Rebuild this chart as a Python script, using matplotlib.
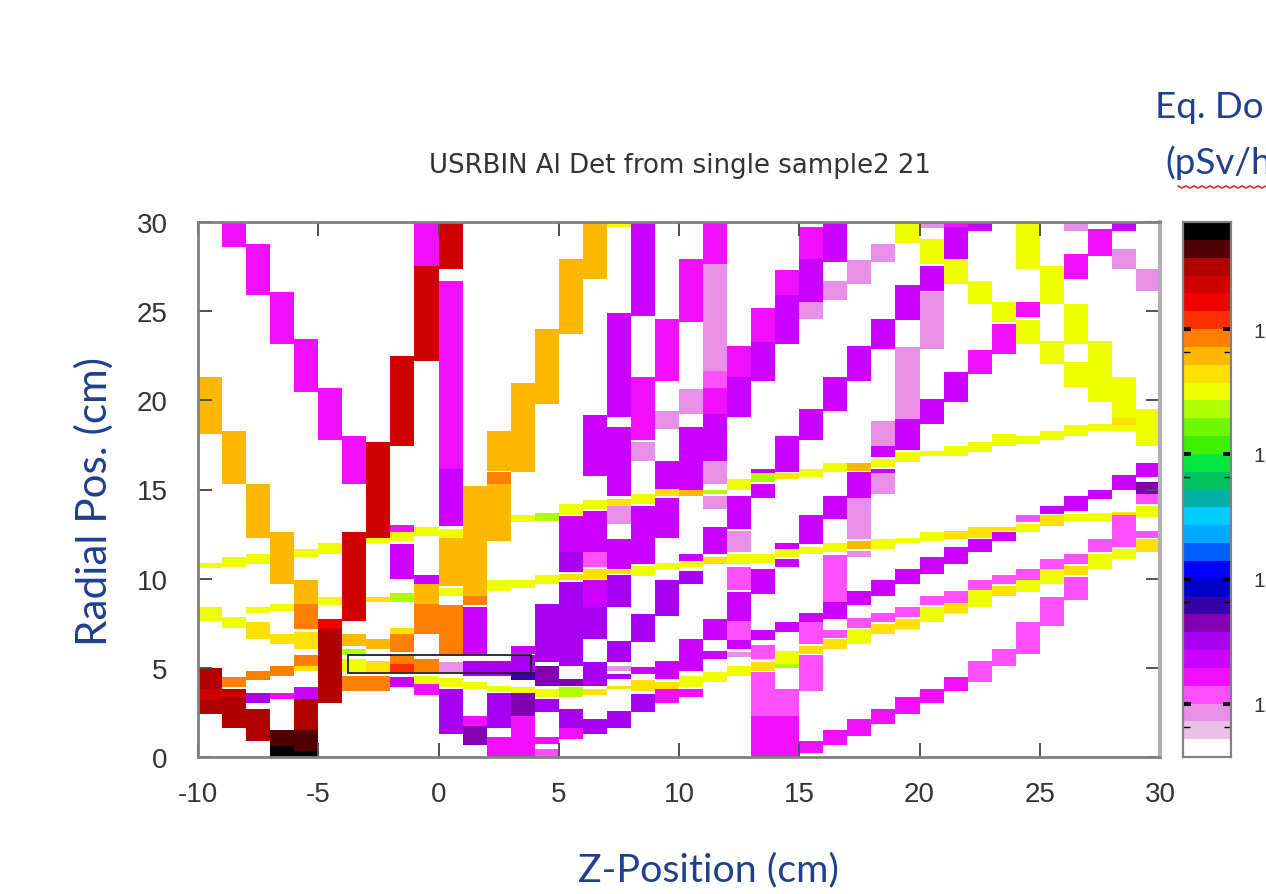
import numpy as np
import matplotlib
matplotlib.use("Agg")
import matplotlib.pyplot as plt
from matplotlib.colors import ListedColormap
from matplotlib.lines import Line2D
from matplotlib.patches import Rectangle

plt.rcParams["axes.unicode_minus"] = False

# colour bands of the bar, lowest first
band_colors = ["#ffffff", "#e8c0e8", "#e890e8", "#ff50ff", "#f010ff", "#cc00ff",
               "#a800f0", "#8000b0", "#3800a8", "#0000c8", "#0000ff", "#0060ff",
               "#00a8ff", "#00ccff", "#00b0a8", "#00c060", "#00e840", "#40f000",
               "#70f800", "#b0ff00", "#f0ff00", "#ffe000", "#ffb800", "#ff8000",
               "#ff3000", "#f00000", "#d00000", "#b00000", "#500000", "#000000"]

z_ticks = [-10, -5, 0, 5, 10, 15, 20, 25, 30]
r_ticks = [0, 5, 10, 15, 20, 25, 30]
bar_major = [3, 10, 17, 24]
bar_minor = [1.7, 8.7, 15.7, 22.7]
bar_labels = ["1", "1", "1", "1"]

# one list per 1 cm z column: (r low, r high, band)
c00 = [(18.1, 21.3, 22), (10.6, 10.9, 20), (7.6, 8.4, 20), (3.8, 5.0, 27), (3.2, 3.8, 26), (2.4, 3.2, 27)]
c01 = [(28.6, 30, 4), (15.3, 18.3, 22), (10.65, 11.2, 20), (7.25, 7.85, 20), (3.9, 4.5, 23), (1.6, 3.8, 27), (3.3, 3.6, 26)]
c02 = [(25.9, 28.75, 4), (12.3, 15.3, 22), (10.8, 11.4, 20), (8.1, 8.4, 20), (6.6, 7.55, 21), (4.3, 4.85, 23), (3.05, 3.6, 6), (0.9, 2.7, 27)]
c03 = [(23.15, 26.05, 4), (9.7, 12.6, 22), (8.2, 8.6, 20), (6.35, 6.9, 21), (4.55, 5.1, 23), (3.25, 3.6, 4), (0.6, 1.5, 28), (0, 0.6, 29)]
c04 = [(20.45, 23.45, 4), (11.2, 11.65, 20), (8.6, 9.9, 22), (7.2, 8.6, 23), (6.05, 7, 21), (5.1, 5.7, 23), (4.8, 5.1, 21), (3.25, 3.9, 5), (1.5, 3.25, 27), (0.35, 1.5, 28), (0, 0.35, 29)]
c05 = [(17.75, 20.7, 4), (11.4, 12, 20), (8.5, 9, 20), (7.2, 7.75, 25), (3.05, 7.2, 27)]
c06 = [(15.3, 18, 4), (7.65, 12.6, 26), (6.25, 6.9, 22), (5.7, 6.05, 19), (4.75, 5.5, 20), (3.7, 4.55, 23)]
c07 = [(12.3, 17.65, 26), (12, 12.3, 20), (8.7, 9, 21), (6.05, 6.6, 22), (4.75, 5.4, 21), (3.7, 4.55, 23)]
c08 = [(17.45, 22.5, 26), (12.6, 13, 4), (12.1, 12.6, 20), (10, 11.95, 5), (8.7, 9.2, 19), (6.9, 7.25, 21), (5.9, 6.9, 23), (5.2, 5.7, 23), (4.75, 5.2, 24), (3.9, 4.5, 5)]
c09 = [(27.55, 30, 4), (22.2, 27.55, 26), (12.4, 12.9, 20), (9.7, 10.2, 5), (9.05, 9.7, 22), (8.6, 9.05, 22), (6.9, 8.6, 23), (4.75, 5.5, 23), (4.1, 4.55, 20), (3.45, 4.1, 4)]
c10 = [(27.35, 30, 26), (16.15, 26.7, 4), (12.97, 16.15, 5), (12.3, 12.8, 20), (9.6, 12.3, 22), (9.05, 9.5, 20), (5.7, 8.5, 23), (4.75, 5.3, 2), (3.9, 4.45, 20), (1.3, 3.8, 6)]
c11 = [(9.05, 15.2, 22), (8.5, 9.05, 23), (5.7, 8.4, 5), (4.55, 5.4, 6), (3.8, 4.2, 20), (1.75, 2.3, 4), (0.65, 1.75, 7)]
c12 = [(16.05, 18.3, 22), (15.3, 16, 23), (12.1, 15.3, 22), (9.3, 9.9, 20), (4.55, 5.4, 6), (3.65, 4, 20), (1.65, 3.6, 6), (0, 1.1, 4)]
c13 = [(16, 21, 22), (13.15, 13.55, 20), (9.5, 9.9, 20), (5.8, 6.25, 5), (4.75, 5.7, 6), (4.3, 4.75, 8), (3.6, 3.9, 20), (2.3, 3.6, 7), (0, 2.3, 4)]
c14 = [(19.8, 24, 22), (13.25, 13.7, 19), (9.7, 10.2, 20), (7.85, 8.6, 6), (5.3, 7.85, 6), (4, 5.1, 7), (3.35, 3.8, 20), (2.5, 3.25, 6), (0.75, 1.1, 4), (0, 0.45, 3)]
c15 = [(23.7, 27.9, 22), (13.55, 14.2, 20), (11.5, 13.5, 5), (10.35, 11.5, 6), (9.9, 10.25, 21), (5.1, 9.8, 6), (4, 4.4, 7), (3.35, 3.9, 19), (1.6, 2.7, 6), (1, 1.6, 4)]
c16 = [(26.8, 30, 22), (15.75, 19.2, 5), (13.9, 14.4, 20), (11.5, 13.8, 5), (10.65, 11.5, 3), (10, 10.55, 21), (8.4, 9.9, 5), (6.6, 8.4, 6), (4, 5.3, 6), (3.45, 3.8, 21), (1.3, 2.15, 6)]
c17 = [(29.7, 30, 20), (19.05, 24.9, 5), (17.5, 18.5, 5), (14.65, 17.5, 5), (14.1, 14.45, 21), (13.05, 14.1, 2), (10.55, 12.2, 5), (10.25, 10.5, 21), (8.4, 10.2, 6), (5.3, 6.5, 6), (4.85, 5.1, 2), (4.4, 4.65, 6), (3.8, 4, 21), (1.6, 2.6, 6)]
c18 = [(24.75, 30, 5), (17.75, 21.3, 4), (16.6, 17.65, 2), (14.2, 14.75, 20), (10.85, 14.1, 5), (10.15, 10.7, 20), (6.45, 8, 6), (4.65, 5.05, 5), (3.7, 4.3, 21), (2.5, 3.55, 6)]
c19 = [(21.1, 24.55, 4), (18.4, 19.4, 2), (15.05, 16.6, 5), (14.65, 15.03, 21), (12.3, 14.5, 5), (10.55, 10.9, 20), (7.9, 9.9, 6), (4.4, 5.4, 5), (3.8, 4.2, 21), (3.05, 3.8, 4)]
c20 = [(24.4, 27.9, 4), (19.25, 20.65, 2), (15, 18.5, 5), (14.65, 15, 22), (11, 11.4, 5), (10.65, 11, 20), (9.7, 10.45, 6), (4.85, 6.6, 5), (3.9, 4.55, 20), (3.35, 3.8, 4)]
c21 = [(27.65, 30, 4), (21.65, 27.65, 2), (20.7, 21.65, 3), (19.25, 20.7, 4), (16.6, 19.25, 5), (15.3, 16.6, 2), (14.75, 15, 19), (13.9, 14.65, 2), (11.4, 12.9, 5), (10.8, 11.2, 21), (6.55, 7.75, 5), (5.5, 5.95, 5), (4.2, 4.75, 20)]
c22 = [(21.3, 23.05, 4), (19.05, 21.3, 5), (14.95, 15.6, 20), (12.8, 14.65, 5), (11.5, 12.7, 2), (10.8, 11.4, 20), (9.35, 10.65, 3), (7.65, 9.25, 5), (6.55, 7.65, 3), (6.05, 6.55, 5), (5.6, 5.9, 2), (4.55, 5.1, 20)]
c23 = [(23.25, 25.2, 4), (21.1, 23.25, 5), (15.9, 16.15, 5), (15.4, 15.9, 19), (14.55, 15.3, 5), (10.9, 11.4, 20), (9.15, 10.55, 5), (6.55, 7.1, 5), (5.5, 6.3, 3), (4.85, 5.3, 21), (2.3, 4.75, 3), (0, 2.3, 4)]
c24 = [(25.9, 27.3, 4), (23.15, 25.9, 5), (16, 18, 5), (15.6, 15.9, 21), (11.65, 12, 5), (11.2, 11.65, 20), (10.65, 11.1, 5), (7, 7.55, 5), (5.2, 5.95, 20), (5, 5.2, 19), (2.3, 3.8, 3), (0, 2.3, 4)]
c25 = [(27.9, 29.7, 4), (25.5, 27.9, 5), (24.55, 25.5, 2), (17.75, 19.5, 5), (15.7, 16.15, 20), (11.95, 13.55, 5), (11.4, 11.75, 20), (7.55, 8.1, 5), (6.35, 7.55, 3), (5.8, 6.25, 21), (3.7, 5.7, 3), (0.25, 0.9, 4)]
c26 = [(27.75, 30, 5), (25.6, 26.7, 2), (19.4, 21.3, 5), (16, 16.5, 20), (13.35, 14.65, 5), (11.5, 12, 20), (8.7, 11.3, 3), (7.75, 8.7, 5), (6.7, 7.1, 3), (6.05, 6.6, 21), (0.65, 1.5, 4)]
c27 = [(26.5, 27.85, 2), (21.1, 23.05, 5), (16.05, 16.5, 22), (14.55, 16, 5), (12.2, 14.5, 2), (11.65, 12.1, 22), (11.2, 11.55, 2), (8.5, 9.3, 5), (7.25, 7.8, 3), (6.35, 7.2, 20), (1.2, 2.15, 4)]
c28 = [(27.75, 28.75, 2), (22.9, 24.55, 5), (17.45, 18.85, 2), (16.8, 17.45, 5), (16.25, 16.7, 20), (15.95, 16.15, 5), (14.75, 15.95, 2), (11.65, 12.2, 20), (9.05, 9.9, 5), (7.55, 8.1, 3), (6.9, 7.45, 21), (1.85, 2.7, 4)]
c29 = [(28.85, 30, 20), (24.5, 26.45, 5), (18.95, 23, 2), (17.2, 18.95, 5), (16.55, 17.1, 20), (12, 12.3, 20), (9.7, 10.55, 5), (7.85, 8.4, 3), (7.2, 7.75, 21), (2.4, 3.35, 4)]
c30 = [(29.65, 30, 2), (27.65, 29.05, 20), (26.15, 27.55, 5), (22.9, 26.05, 2), (18.7, 20.1, 5), (16.9, 17.15, 20), (12.1, 12.6, 20), (10.25, 11.2, 5), (8.5, 9.05, 3), (7.55, 8.4, 20), (3.05, 3.8, 4)]
c31 = [(29.7, 30, 4), (27.9, 29.7, 5), (26.5, 27.9, 20), (19.9, 21.6, 5), (16.9, 17.45, 20), (12.2, 12.7, 21), (10.8, 11.75, 5), (8.65, 9.3, 3), (8.1, 8.65, 21), (3.7, 4.5, 4)]
c32 = [(29.5, 30, 5), (25.4, 26.7, 20), (21.5, 22.8, 4), (17.1, 17.65, 20), (12.3, 12.9, 21), (11.5, 12.2, 5), (9.35, 9.9, 3), (8.4, 9.35, 20), (4.2, 5.4, 3)]
c33 = [(24.4, 25.5, 20), (22.6, 24.3, 4), (17.45, 18.1, 20), (12.7, 12.9, 21), (12.1, 12.6, 5), (9.7, 10.2, 3), (9.05, 9.6, 21), (5.1, 6.05, 3)]
c34 = [(27.35, 30, 20), (24.65, 25.5, 4), (23.15, 24.5, 20), (17.55, 18, 20), (13.15, 13.55, 3), (12.6, 13.05, 20), (9.9, 10.55, 3), (9.25, 9.9, 20), (5.8, 7.55, 3)]
c35 = [(25.4, 27.55, 20), (22.05, 23.35, 20), (17.75, 18.3, 20), (13.65, 14.1, 5), (12.95, 13.55, 21), (10.55, 11.1, 3), (9.7, 10.55, 20), (7.35, 8.95, 3)]
c36 = [(29.5, 30, 2), (26.8, 28.2, 4), (23.15, 25.4, 20), (20.75, 22.15, 20), (18, 18.6, 20), (13.8, 14.65, 5), (13.25, 13.65, 20), (10.8, 11.4, 3), (10.2, 10.7, 21), (8.8, 10.1, 3)]
c37 = [(28.1, 29.6, 4), (19.9, 23.35, 20), (18.3, 18.7, 20), (14.45, 15, 5), (13.25, 13.7, 20), (11.5, 12.2, 3), (10.55, 11.4, 20)]
c38 = [(29.5, 30, 5), (27.35, 28.5, 2), (19, 21.3, 20), (18.6, 19, 21), (18.3, 18.6, 20), (15, 15.8, 5), (11.75, 13.55, 3), (13.55, 13.75, 21), (11.1, 11.65, 20)]
c39 = [(26.15, 27.35, 2), (18.9, 19.5, 20), (17.45, 18.9, 20), (15.7, 16.5, 5), (14.75, 15.4, 7), (14.2, 14.75, 3), (13.45, 14.1, 20), (12.3, 12.7, 3), (11.5, 12.2, 21)]

columns = [c00, c01, c02, c03, c04, c05, c06, c07, c08, c09,
           c10, c11, c12, c13, c14, c15, c16, c17, c18, c19,
           c20, c21, c22, c23, c24, c25, c26, c27, c28, c29,
           c30, c31, c32, c33, c34, c35, c36, c37, c38, c39]

z_edges = np.arange(-10, 31, 1)
r_edges = np.arange(0, 30.05, 0.05)
grid = np.zeros((len(r_edges) - 1, len(z_edges) - 1))
r_mid = (r_edges[:-1] + r_edges[1:]) / 2
for i, col in enumerate(columns):
    for lo, hi, band in col:
        grid[(r_mid >= lo) & (r_mid < hi), i] = band

W, H = 1266, 895
navy = "#1f3f8f"
grey = "#808080"
txt = "#333333"
cmap = ListedColormap(band_colors)


def px_axes(x0, y0, x1, y1):
    return fig.add_axes([x0 / W, 1 - y1 / H, (x1 - x0) / W, (y1 - y0) / H])


fig = plt.figure(figsize=(W / 100, H / 100), dpi=100, facecolor="white")

ax = px_axes(198, 223, 1160, 758)
ax.pcolormesh(z_edges, r_edges, grid, cmap=cmap, vmin=0, vmax=30, shading="flat",
              antialiased=False, rasterized=True)
ax.add_patch(Rectangle((-3.75, 4.7), 7.6, 1.0, fill=False, ec="#202020", lw=1.3))
ax.set_xlim(-10, 30)
ax.set_ylim(0, 30)
ax.set_xticks(z_ticks)
ax.set_yticks(r_ticks)
ax.tick_params(direction="in", top=True, right=True, length=10, width=1.4, color="#505050",
               labelsize=20, labelcolor=txt)
ax.tick_params(axis="x", pad=17)
ax.tick_params(axis="y", pad=22)
for lab in ax.get_xticklabels() + ax.get_yticklabels():
    lab.set_family("Liberation Sans")
for s in ax.spines.values():
    s.set_color(grey)
    s.set_linewidth(2)
ax.spines["right"].set_color("#b0b0b0")
ax.spines["right"].set_linewidth(3)

fig.text(680 / W, 1 - 166 / H, "USRBIN Al Det from single sample2 21", fontsize=18.7,
         color=txt, ha="center", va="center")

fig.text(708 / W, 1 - 870 / H, "Z-Position (cm)", family="Lato", fontsize=28.4,
         color=navy, ha="center", va="center")
fig.text(94 / W, 1 - 501 / H, "Radial Pos. (cm)", family="Lato", fontsize=30.4,
         color=navy, ha="center", va="center", rotation=90)
fig.text(1155 / W, 1 - 107 / H, "Eq. Do", family="Lato", fontsize=26.5,
         color=navy, ha="left", va="center")
fig.text(1165 / W, 1 - 163 / H, "(pSv/h", family="Lato", fontsize=26.5,
         color=navy, ha="left", va="center")

# spell-check squiggle under the pasted unit text
sq_x = np.arange(1178, 1268, 4)
sq_y = 187 + 2 * (np.arange(len(sq_x)) % 2)
fig.add_artist(Line2D(sq_x / W, 1 - sq_y / H, color="#e03030", lw=1.2))

cax = px_axes(1183, 223, 1231, 758)
levels = np.arange(31)
cax.pcolormesh([0, 1], levels, np.arange(30).reshape(-1, 1), cmap=cmap, vmin=0, vmax=30,
               antialiased=False, rasterized=True)
cax.set_xlim(0, 1)
cax.set_ylim(0, 30)
cax.set_xticks([])
cax.set_yticks(bar_major)
cax.set_yticklabels(bar_labels)
cax.set_yticks(bar_minor, minor=True)
cax.tick_params(axis="y", which="major", direction="in", left=True, right=True, length=6,
                width=2.8, color="black", labelleft=False, labelright=True,
                labelsize=20, labelcolor=txt, pad=16)
cax.tick_params(axis="y", which="minor", direction="in", left=True, right=True, length=5,
                width=1, color="black")
for lab in cax.get_yticklabels():
    lab.set_family("Liberation Sans")
    lab.set_fontsize(15)
for s in cax.spines.values():
    s.set_color(grey)
    s.set_linewidth(1.6)

fig.savefig("out.png", dpi=100)
